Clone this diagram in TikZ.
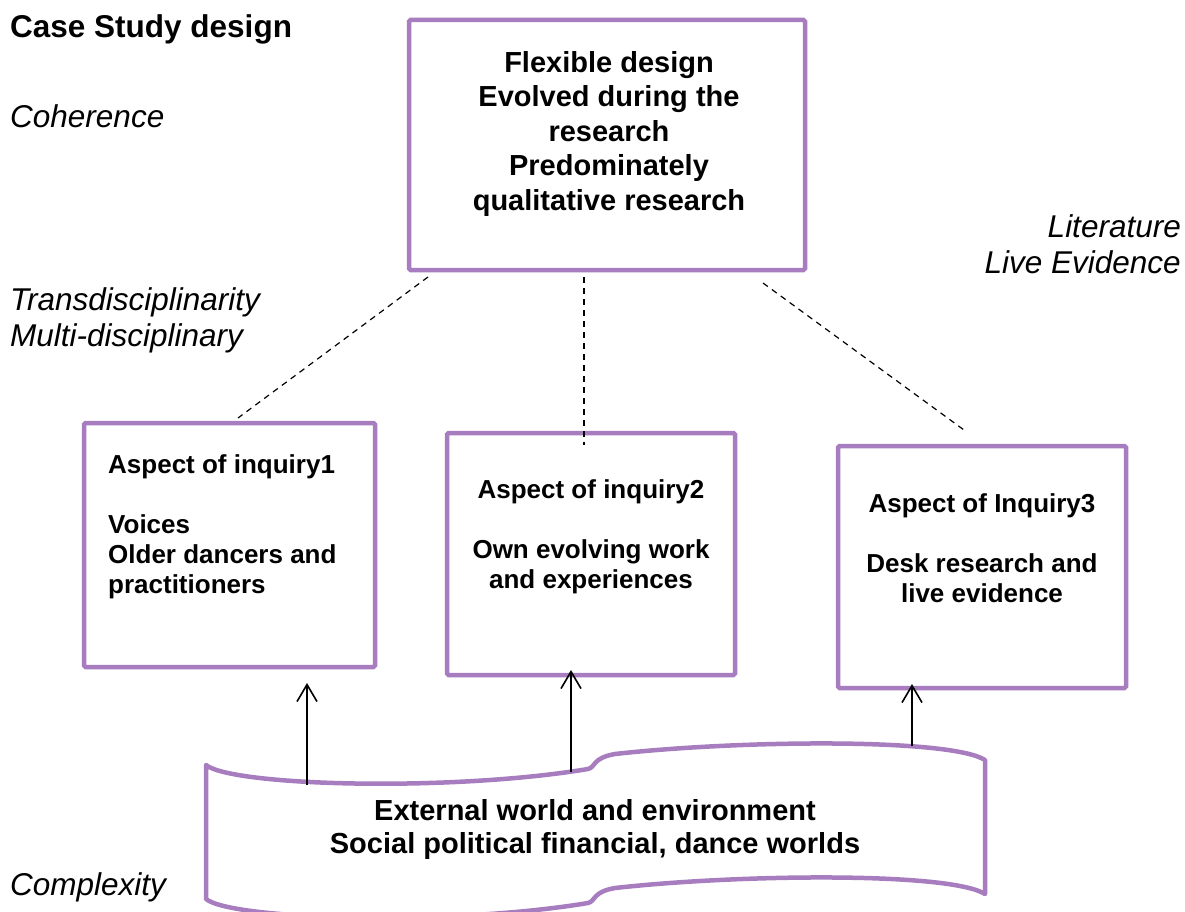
\documentclass[tikz,border=0pt]{standalone}
\usepackage{fontspec}
\setmainfont{Liberation Sans}
\usetikzlibrary{arrows.meta}
\definecolor{boxpurple}{RGB}{167,125,192}
\begin{document}
\begin{tikzpicture}[x=1pt,y=-1pt,
  pbox/.style={draw=boxpurple,line width=4.5pt,rounded corners=1.5pt,inner sep=0pt,fill=white},
  lbl/.style={inner sep=0pt,font=\fontsize{31.5}{36.5}\selectfont\itshape},
  title/.style={inner sep=0pt,font=\fontsize{31.5}{36.5}\selectfont\bfseries},
  toptext/.style={inner sep=0pt,align=center,font=\fontsize{29}{34.5}\selectfont\bfseries},
  boxtext/.style={inner sep=0pt,font=\fontsize{26}{30}\selectfont\bfseries},
  scrolltext/.style={inner sep=0pt,align=center,font=\fontsize{29}{33.5}\selectfont\bfseries},
  dashline/.style={line width=1.2pt,dash pattern=on 6pt off 5pt},
  uparrow/.style={line width=1.6pt,-{Straight Barb[length=17pt,width=20pt,line width=1.6pt]}},
  scrollshape/.style={draw=boxpurple,line width=4.5pt,line join=round}
]
\useasboundingbox (0,0) rectangle (1185,912);

% scroll shape (external world)
\draw[scrollshape] (206,765) .. controls (232,786) and (450,792) .. (588,769)
  .. controls (596,767) and (592,758) .. (615,754)
  .. controls (740,740) and (950,738) .. (985,760)
  -- (985,894)
  .. controls (950,872) and (740,874) .. (615,888)
  .. controls (592,892) and (596,901) .. (588,903)
  .. controls (450,926) and (232,920) .. (206,899) -- cycle;
% (multi-line nodes: base anchor = baseline of the last line)
\node[scrolltext,anchor=base] (world) at (595,853.5)
  {External world and environment\\Social political financial, dance worlds};

% boxes
\node[pbox,minimum width=396,minimum height=250] (top) at (607,145) {};
\node[pbox,minimum width=291,minimum height=244] (b1) at (229.5,545) {};
\node[pbox,minimum width=288,minimum height=242] (b2) at (591,554) {};
\node[pbox,minimum width=288,minimum height=242] (b3) at (982,567) {};

\node[toptext,anchor=base] (toptxt) at (609,210)
  {Flexible design\\Evolved during the\\research\\Predominately\\qualitative research};
\node[boxtext,align=left,anchor=base west] (b1txt) at (108,593)
  {Aspect of inquiry1\\[30pt]Voices\\Older dancers and\\practitioners};
\node[boxtext,align=center,anchor=base] (b2txt) at (591,588)
  {Aspect of inquiry2\\[30pt]Own evolving work\\and experiences};
\node[boxtext,align=center,anchor=base] (b3txt) at (982,602)
  {Aspect of Inquiry3\\[30pt]Desk research and\\live evidence};

% side labels
\node[title,anchor=base west] (case) at (10,38) {Case Study design};
\node[lbl,anchor=base west] (coh) at (10,128) {Coherence};
\node[lbl,anchor=base west,align=left] (trans) at (10,346.5) {Transdisciplinarity\\Multi-disciplinary};
\node[lbl,anchor=base east,align=right] (lit) at (1181,273.5) {Literature\\Live Evidence};
\node[lbl,anchor=base west] (cplx) at (10,895) {Complexity};

% dashed connectors
\coordinate (d1s) at (428,277); \coordinate (d1e) at (238,418);
\coordinate (d2s) at (584,277); \coordinate (d2e) at (584,445);
\coordinate (d3s) at (763,283); \coordinate (d3e) at (964,430);
\draw[dashline] (d1s) -- (d1e);
\draw[dashline] (d2s) -- (d2e);
\draw[dashline] (d3s) -- (d3e);

% arrows
\coordinate (a1s) at (307,785); \coordinate (a1e) at (307,683);
\coordinate (a2s) at (571,772); \coordinate (a2e) at (571,670);
\coordinate (a3s) at (912,746); \coordinate (a3e) at (912,684);
\draw[uparrow] (a1s) -- (a1e);
\draw[uparrow] (a2s) -- (a2e);
\draw[uparrow] (a3s) -- (a3e);
\end{tikzpicture}
\end{document}
